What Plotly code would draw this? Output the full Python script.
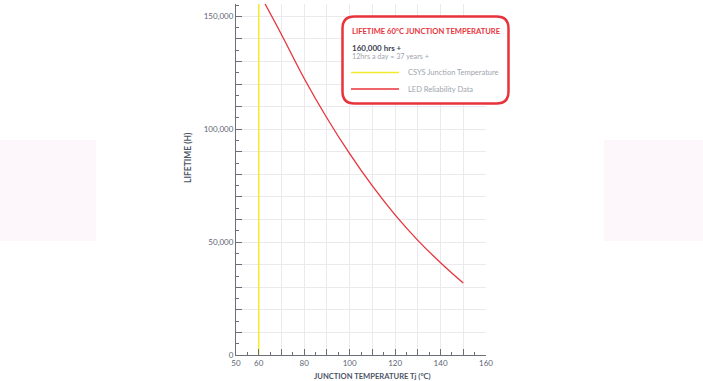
import plotly.graph_objects as go

# ---- data ----
temps = [62.8, 70, 80, 90, 100, 110, 120, 130, 140, 150]
lifetime = [155500, 142000, 122500, 105000, 89200, 74900, 62100, 50800, 40900, 31900]
csys_temp = 60
x_tickvals = [50, 60, 70, 80, 90, 100, 110, 120, 130, 140, 150, 160]
x_ticktext = ["50", "60", "", "80", "", "100", "", "120", "", "140", "", "160"]
y_tickvals = list(range(0, 160000, 10000))
y_labels = {0: "0", 50000: "50,000", 100000: "100,000", 150000: "150,000"}
y_ticktext = [y_labels.get(v, "") for v in y_tickvals]
box_title = "LIFETIME 60°C JUNCTION TEMPERATURE"
box_head = "160,000 hrs +"
box_sub = "12hrs a day = 37 years +"
legend_names = ["CSYS Junction Temperature", "LED Reliability Data"]

RED = "#e8333b"
YELLOW = "#f3ea2c"
AXIS = "#5d6574"
FONT = "Lato, 'Open Sans', sans-serif"

W, H = 703, 381
L, R, T, B = 236, 486, 4, 355
pw, ph = R - L, B - T

def px(x):
    return (x - L) / pw

def py(y):
    return (B - y) / ph

fig = go.Figure()
fig.add_trace(go.Scatter(x=[csys_temp, csys_temp], y=[0, 155500], mode="lines",
                         line=dict(color=YELLOW, width=1.5), name=legend_names[0],
                         hoverinfo="skip"))
fig.add_trace(go.Scatter(x=temps, y=lifetime, mode="lines",
                         line=dict(color=RED, width=1.3, shape="spline", smoothing=1.2),
                         name=legend_names[1]))

shapes = []
# faint carousel boxes
for x0, x1 in [(0, 96), (604, 703)]:
    shapes.append(dict(type="rect", xref="paper", yref="paper",
                       x0=px(x0), x1=px(x1), y0=py(241), y1=py(140),
                       fillcolor="#fdf6fb", line=dict(width=0), layer="below"))

# rounded legend box
bx0, bx1, by0, by1 = 342.5, 508.5, 16.5, 103.5
r = 12
rx, ry = r / pw, r / ph
X0, X1, Yt, Yb = px(bx0), px(bx1), py(by0), py(by1)
path = (f"M {X0+rx},{Yt} L {X1-rx},{Yt} Q {X1},{Yt} {X1},{Yt-ry} "
        f"L {X1},{Yb+ry} Q {X1},{Yb} {X1-rx},{Yb} "
        f"L {X0+rx},{Yb} Q {X0},{Yb} {X0},{Yb+ry} "
        f"L {X0},{Yt-ry} Q {X0},{Yt} {X0+rx},{Yt} Z")
shapes.append(dict(type="path", xref="paper", yref="paper", path=path,
                   fillcolor="white", line=dict(color=RED, width=2.5)))
# legend keys
for yy, col in [(72.5, YELLOW), (89, RED)]:
    shapes.append(dict(type="line", xref="paper", yref="paper",
                       x0=px(351), x1=px(399), y0=py(yy), y1=py(yy),
                       line=dict(color=col, width=1.5)))

ann = []
def txt(x, y, s, size, color, bold=False, **kw):
    d = dict(xref="paper", yref="paper", x=px(x), y=py(y), text=(f"<b>{s}</b>" if bold else s),
             showarrow=False, xanchor="left", yanchor="middle",
             font=dict(size=size, color=color, family=FONT))
    d.update(kw)
    ann.append(d)

txt(350, 31, box_title, 7.6, RED, bold=True)
txt(350, 47.5, box_head, 8, "#3b4252", bold=True)
txt(350, 56, box_sub, 7.2, "#a0a5ae")
txt(406, 72.5, legend_names[0], 7.5, "#a0a5ae")
txt(406, 89, legend_names[1], 7.5, "#a0a5ae")
# axis titles
ann.append(dict(xref="paper", yref="paper", x=px(188), y=py(158), text="<b>LIFETIME (H)</b>",
                textangle=-90, showarrow=False, xanchor="center", yanchor="middle",
                font=dict(size=8.5, color="#4d5566", family=FONT)))
ann.append(dict(xref="paper", yref="paper", x=px(372), y=py(376),
                text="<b>JUNCTION TEMPERATURE Tj (°C)</b>", showarrow=False,
                xanchor="center", yanchor="middle",
                font=dict(size=7.6, color="#4d5566", family=FONT)))

fig.update_layout(
    width=W, height=H, margin=dict(l=L, r=W - R, t=T, b=H - B),
    paper_bgcolor="white", plot_bgcolor="white", showlegend=False,
    shapes=shapes, annotations=ann,
    font=dict(family=FONT, color=AXIS),
)
fig.update_xaxes(range=[50, 160], tickvals=x_tickvals, ticktext=x_ticktext,
                 showgrid=True, gridcolor="#e9e9ee", gridwidth=1,
                 showline=True, linecolor="#6a6f78", linewidth=1,
                 ticks="inside", ticklen=6, tickcolor="#6a6f78",
                 minor=dict(dtick=5, tick0=50, ticks="inside", ticklen=3, tickcolor="#6a6f78", showgrid=False),
                 tickfont=dict(size=8, color=AXIS, family=FONT), zeroline=False, automargin=False)
fig.update_yaxes(range=[0, 155500], tickvals=y_tickvals, ticktext=y_ticktext,
                 showgrid=True, gridcolor="#e9e9ee", gridwidth=1,
                 showline=True, linecolor="#6a6f78", linewidth=1,
                 ticks="inside", ticklen=6, tickcolor="#6a6f78",
                 minor=dict(dtick=5000, tick0=0, ticks="inside", ticklen=3, tickcolor="#6a6f78", showgrid=False),
                 tickfont=dict(size=8, color=AXIS, family=FONT), zeroline=False, automargin=False)

fig.write_html("out.html", config={"displayModeBar": False},
               post_script="document.body.style.margin='0';")
